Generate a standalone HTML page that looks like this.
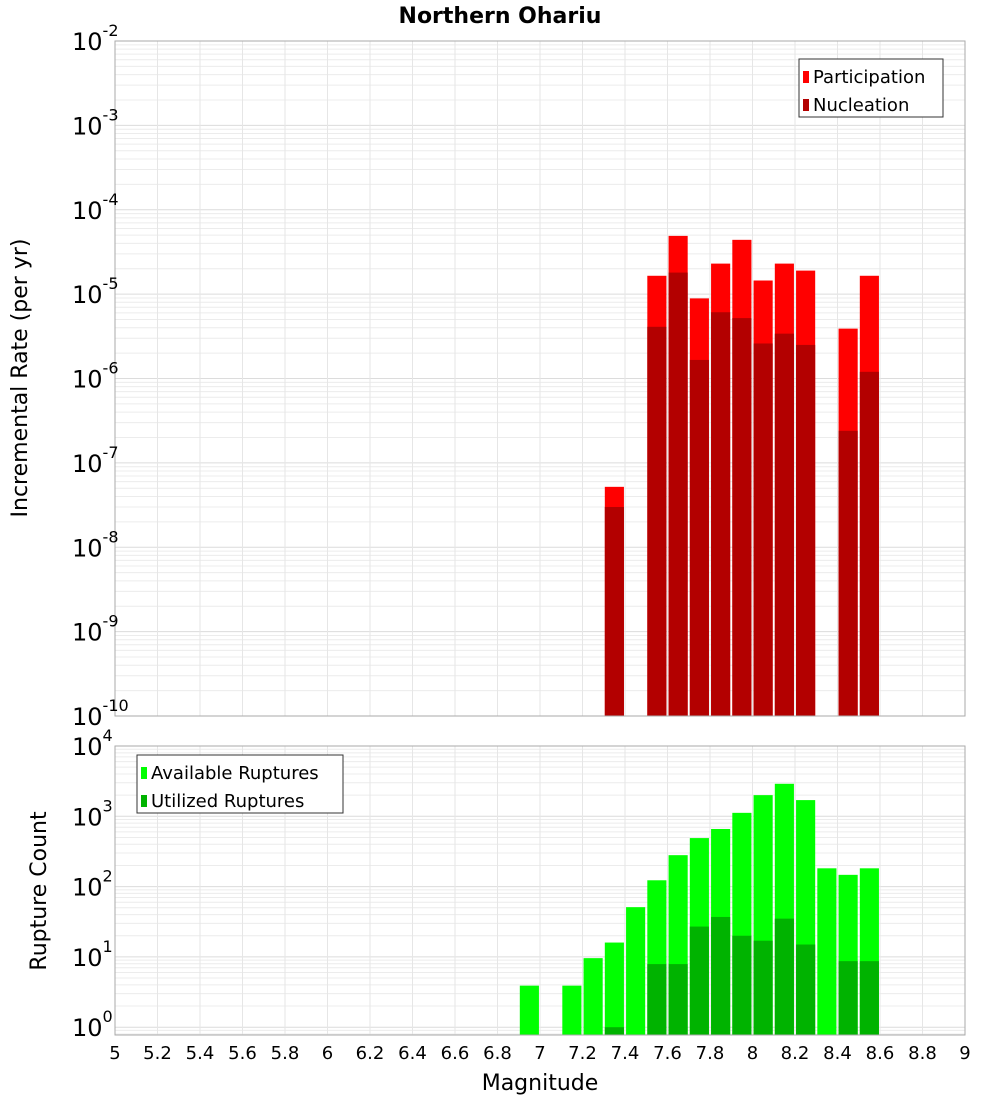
<!DOCTYPE html>
<html><head><meta charset="utf-8"><style>
body{margin:0;background:#fff;font-family:"Liberation Sans","DejaVu Sans",sans-serif}
svg text{font-family:"DejaVu Sans","Liberation Sans",sans-serif}
</style></head><body>
<svg id="c" width="1000" height="1100" xmlns="http://www.w3.org/2000/svg">
<text x="500" y="23" text-anchor="middle" font-size="22" font-weight="bold">Northern Ohariu</text>
<text transform="translate(27,378) rotate(-90)" text-anchor="middle" font-size="22">Incremental Rate (per yr)</text>
<text transform="translate(46,891) rotate(-90)" text-anchor="middle" font-size="22">Rupture Count</text>
<text x="540" y="1090" text-anchor="middle" font-size="22">Magnitude</text>
</svg>
<script>
const mags=[6.95,7.15,7.25,7.35,7.45,7.55,7.65,7.75,7.85,7.95,8.05,8.15,8.25,8.35,8.45,8.55];
const participation=[0,0,0,5.2e-8,0,1.65e-5,4.9e-5,8.9e-6,2.3e-5,4.4e-5,1.45e-5,2.3e-5,1.9e-5,0,3.9e-6,1.65e-5];
const nucleation=[0,0,0,3.0e-8,0,4.1e-6,1.8e-5,1.66e-6,6.1e-6,5.2e-6,2.6e-6,3.4e-6,2.5e-6,0,2.4e-7,1.2e-6];
const available=[3.9,3.9,9.6,16,51,123,280,490,660,1120,2000,2900,1700,182,147,182];
const utilized=[0,0,0,1,0,7.9,7.9,27,37,20,17,35,15,0,8.7,8.7];
const xTicks=[5,5.2,5.4,5.6,5.8,6,6.2,6.4,6.6,6.8,7,7.2,7.4,7.6,7.8,8,8.2,8.4,8.6,8.8,9];
const topExps=[-2,-3,-4,-5,-6,-7,-8,-9,-10];
const botExps=[4,3,2,1,0];
const NS="http://www.w3.org/2000/svg";
const svg=document.getElementById('c');
function el(t,a,p){const e=document.createElementNS(NS,t);for(const k in a)e.setAttribute(k,a[k]);(p||svg).appendChild(e);return e;}
const X0=115,X1=965;
const xs=m=>X0+(m-5)/4*(X1-X0);
const T0=41,T1=716;
const yt=v=>T0+(-2-Math.log10(v))/8*(T1-T0);
const B0=746,B1=1035,BD=70.3;
const yb=v=>B0+(4-Math.log10(v))*BD;
function grid(y0,y1,lo,hi,yf){
  for(let e=lo;e<hi;e++)for(let k=1;k<10;k++){const y=yf(k*Math.pow(10,e));if(y<y0||y>y1)continue;
    const l=el('line',{x1:X0,x2:X1,y1:y,y2:y,stroke:k==1?'#dcdcdc':'#ececec','stroke-width':1});
    }
  xTicks.forEach(t=>{const l=el('line',{x1:xs(t),x2:xs(t),y1:y0,y2:y1,stroke:'#e6e6e6'});
    });
}
grid(T0,T1,-10,-2,yt);
grid(B0,B1,-1,4,yb);
const bw=(X1-X0)/40*0.9;
function bars(arr,yf,base,color,name){
  arr.forEach((v,i)=>{if(!v)return;const y=yf(v);
    const r=el('rect',{x:xs(mags[i])-bw/2,y:y,width:bw,height:base-y,fill:color});
    });
}
bars(participation,yt,T1,'#ff0000','participation-bar');
bars(nucleation,yt,T1,'#b30000','nucleation-bar');
bars(available,yb,B1,'#00ff00','available-bar');
bars(utilized,yb,B1,'#00b300','utilized-bar');
let f=el('rect',{x:X0,y:T0,width:X1-X0,height:T1-T0,fill:'none',stroke:'#aaa'});

f=el('rect',{x:X0,y:B0,width:X1-X0,height:B1-B0,fill:'none',stroke:'#aaa'});

function ylab(e,y,name){const t=el('text',{x:72,y:y+9,'font-size':24});
  
  t.textContent='10';const s=el('tspan',{dy:-14,'font-size':16},t);s.textContent=String(e);}
topExps.forEach(e=>ylab(e,yt(Math.pow(10,e)),'top-y-tick-label'));
botExps.forEach(e=>ylab(e,yb(Math.pow(10,e)),'bottom-y-tick-label'));
xTicks.forEach(t=>{const tx=el('text',{x:xs(t),y:1059,'text-anchor':'middle','font-size':18});
  
  tx.textContent=String(+t.toFixed(1));});
function legend(x,y,w,items,name){
  const g=el('g',{});
  el('rect',{x:x,y:y,width:w,height:58,fill:'#fff',stroke:'#333'},g);
  items.forEach((it,i)=>{el('rect',{x:x+4,y:y+12+i*28,width:6,height:12,fill:it[1]},g);
    const t=el('text',{x:x+14,y:y+24+i*28,'font-size':18},g);t.textContent=it[0];});
}
legend(799,59,144,[['Participation','#ff0000'],['Nucleation','#b30000']],'top-legend');
legend(137,755,206,[['Available Ruptures','#00ff00'],['Utilized Ruptures','#00b300']],'bottom-legend');
</script>
</body></html>
